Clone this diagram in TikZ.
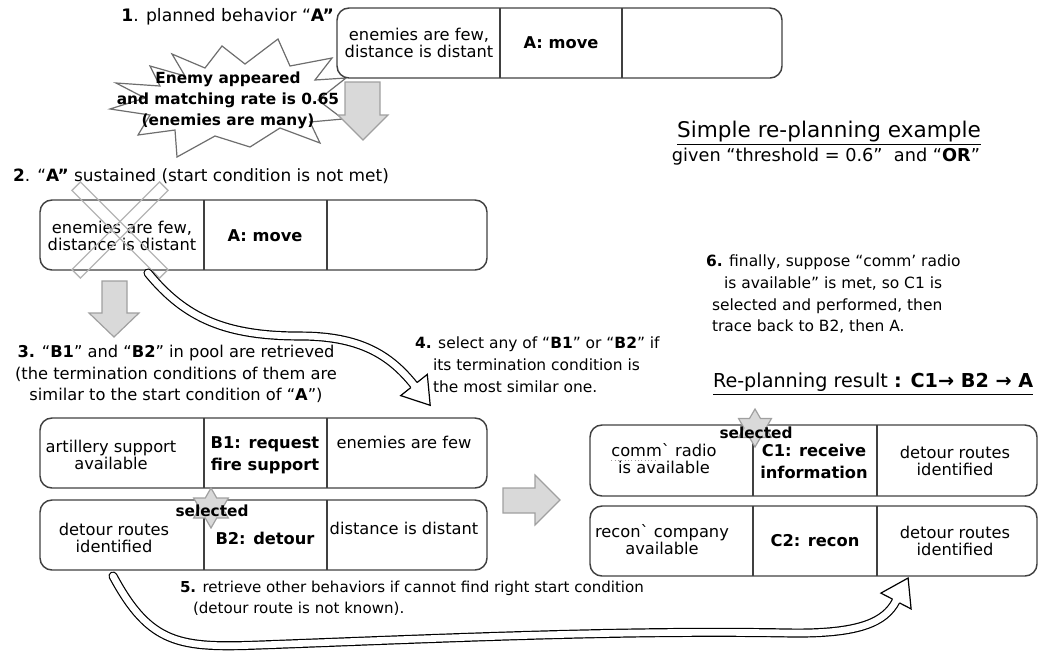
\documentclass[tikz,border=0pt]{standalone}
\usepackage{fontspec}
\setmainfont{DejaVu Sans}[Ligatures=TeXOff]
\usetikzlibrary{calc}

\definecolor{boxline}{HTML}{404040}
\definecolor{arrowfill}{HTML}{D9D9D9}
\definecolor{arrowline}{HTML}{A0A0A0}
\definecolor{crossgray}{HTML}{B4B4B4}
\definecolor{burstgray}{HTML}{6E6E6E}
\definecolor{spellgray}{HTML}{A09898}

\newcommand{\condfont}{\fontsize{12.2}{12.8}\selectfont}
\newcommand{\actfont}{\fontsize{12.2}{16.5}\selectfont\bfseries}
\newcommand{\selfont}{\fontsize{11.5}{14}\selectfont\bfseries}

% six-pointed star: centre x, centre y, outer radius, inner radius
\newcommand{\hexstar}[4]{%
  \draw[selstar] ($(#1,#2)+(90:#3)$) -- ($(#1,#2)+(120:#4)$) --
    ($(#1,#2)+(150:#3)$) -- ($(#1,#2)+(180:#4)$) --
    ($(#1,#2)+(210:#3)$) -- ($(#1,#2)+(240:#4)$) --
    ($(#1,#2)+(270:#3)$) -- ($(#1,#2)+(300:#4)$) --
    ($(#1,#2)+(330:#3)$) -- ($(#1,#2)+(0:#4)$) --
    ($(#1,#2)+(30:#3)$) -- ($(#1,#2)+(60:#4)$) -- cycle;}

\tikzset{
  behbox/.style={draw=boxline, line width=1.1pt, rounded corners=9pt},
  divider/.style={draw=boxline, line width=1.1pt},
  cond/.style={font=\condfont, align=center},
  act/.style={font=\actfont, align=center},
  note/.style={align=left},
  blockarrow/.style={fill=arrowfill, draw=arrowline, line width=0.9pt, line join=miter},
  flowshaft/.style={draw=black, line width=0.9pt, double=white, double distance=5pt, line cap=round},
  flowhead/.style={draw=black, line width=0.9pt, line join=miter},
  crossbar/.style={draw=crossgray, line width=1pt},
  selstar/.style={fill=arrowfill, draw=arrowline, line width=0.9pt, line join=miter},
  burst/.style={draw=burstgray, line width=0.9pt, fill=white, line join=miter},
  spellwave/.style={draw=spellgray, line width=0.5pt, dotted},
}

\begin{document}
\begin{tikzpicture}[x=0.75pt, y=-0.75pt, every node/.style={inner sep=0pt, outer sep=0pt}]
\useasboundingbox (0,0) rectangle (1039,654);

% ---------- step 1: planned behaviour A ----------
\node[note, font=\fontsize{12.9}{16}\selectfont, anchor=east] (s1) at (334,17)
  {\textbf{1}. planned behavior “\textbf{A”}};

\draw[burst] (278,39) -- (290,66) -- (332,58) -- (315,80) -- (346,78) -- (318,100)
  -- (343,119) -- (310,122) -- (320,143) -- (280,128) -- (250,147) -- (215,136)
  -- (177,157) -- (175,130) -- (138,135) -- (150,115) -- (110,109) -- (145,98)
  -- (116,83) -- (160,86) -- (150,66) -- (185,76) -- (172,54) -- (205,68)
  -- (222,46) -- (245,64) -- cycle;
\node[font=\fontsize{11.5}{15.7}\selectfont\bfseries, align=center] (burst) at (228,100)
  {Enemy appeared\\and matching rate is 0.65\\(enemies are many)};

\draw[blockarrow] (345,82) -- (380,82) -- (380,115) -- (388,115) -- (363,140)
  -- (338,115) -- (345,115) -- cycle;

\draw[behbox] (337,8) rectangle (782,78);
\draw[divider] (500,8) -- (500,78);
\draw[divider] (622,8) -- (622,78);
\node[cond] (a1s) at (419,43) {enemies are few,\\distance is distant};
\node[act] (a1b) at (561,43) {A: move};

% ---------- heading ----------
\node[font=\fontsize{16.2}{18}\selectfont] (title) at (829,133) {\underline{Simple re-planning example}};
\node[font=\fontsize{13.3}{15}\selectfont] (given) at (826,157) {given “threshold = 0.6”\ \ and “\textbf{OR}”};

% ---------- step 2: A sustained ----------
\node[note, font=\fontsize{12.7}{16}\selectfont, anchor=west] (s2) at (13,176)
  {\textbf{2}. “\textbf{A”} sustained (start condition is not met)};

\draw[behbox] (40,200) rectangle (487,270);
\draw[divider] (204,200) -- (204,270);
\draw[divider] (327,200) -- (327,270);
\node[cond] (a2s) at (122,236) {enemies are few,\\distance is distant};
\node[act] (a2b) at (265,236) {A: move};

\draw[crossbar, rotate around={45:(120,230)}] (58,224) rectangle (182,236);
\draw[crossbar, rotate around={-45:(120,230)}] (58,224) rectangle (182,236);

\draw[blockarrow] (102,281) -- (127,281) -- (127,313) -- (139,313) -- (114,337)
  -- (89,313) -- (102,313) -- cycle;

% ---------- step 3 ----------
\node[note, font=\fontsize{12.2}{16.1}\selectfont, align=center] (s3) at (176,374)
  {\textbf{3.} “\textbf{B1}” and “\textbf{B2}” in pool are retrieved\\
   (the termination conditions of them are\\
   similar to the start condition of “\textbf{A}”)};

% ---------- step 4 ----------
\node[note, font=\fontsize{11.6}{16.4}\selectfont, anchor=north west] (s4) at (415,337)
  {\textbf{4.} select any of “\textbf{B1}” or “\textbf{B2}” if\\
   \hspace*{13.5pt}its termination condition is\\
   \hspace*{13.5pt}the most similar one.};

% B1
\draw[behbox] (40,418) rectangle (487,488);
\draw[divider] (204,418) -- (204,488);
\draw[divider] (327,418) -- (327,488);
\node[cond] (b1s) at (111,455) {artillery support\\available};
\node[act] (b1b) at (265,455) {B1: request\\fire support};
\node[cond] (b1t) at (404,442) {enemies are few};

% B2
\draw[behbox] (40,500) rectangle (487,570);
\draw[divider] (204,500) -- (204,570);
\draw[divider] (327,500) -- (327,570);
\node[cond] (b2s) at (114,538) {detour routes\\identified};
\node[act] (b2b) at (265,538) {B2: detour};
\node[cond] (b2t) at (404,528) {distance is distant};
\hexstar{211}{508}{20}{11.5}
\node[font=\selfont] (b2sel) at (212,511) {selected};

% gray arrow towards the C boxes
\draw[blockarrow] (503,488) -- (535,488) -- (535,475) -- (560,500) -- (535,525)
  -- (535,513) -- (503,513) -- cycle;

% ---------- step 6 ----------
\node[note, font=\fontsize{11.6}{16.3}\selectfont, anchor=north west] (s6) at (706,255)
  {\textbf{6.} finally, suppose “comm’ radio\\
   \hspace*{13.5pt}is available” is met, so C1 is\\
   \hspace*{4.5pt}selected and performed, then\\
   \hspace*{4.5pt}trace back to B2, then A.};

\node[font=\fontsize{14.4}{16}\selectfont, anchor=west] (result) at (713,384)
  {\underline{Re-planning result \textbf{: C1→ B2 → A}}};

% C1
\draw[behbox] (590,425) rectangle (1037,496);
\draw[divider] (753,425) -- (753,496);
\draw[divider] (877,425) -- (877,496);
\node[cond] (c1s) at (664,459) {comm` radio\\is available};
\draw[spellwave] (c1s.north west) ++(0,16) coordinate (sw1) -- ++(46,0) coordinate (sw2);
\node[act] (c1b) at (814,461) {C1: receive\\information};
\node[cond] (c1t) at (955,461) {detour routes\\identified};
\hexstar{755}{428}{19}{11}
\node[font=\selfont] (c1sel) at (756,433) {selected};

% C2
\draw[behbox] (590,506) rectangle (1037,576);
\draw[divider] (753,506) -- (753,576);
\draw[divider] (877,506) -- (877,576);
\node[cond] (c2s) at (662,540) {recon` company\\available};
\node[act] (c2b) at (815,541) {C2: recon};
\node[cond] (c2t) at (955,541) {detour routes\\identified};

% ---------- step 5 ----------
\node[note, font=\fontsize{11.3}{16}\selectfont, anchor=north west] (s5) at (180,581)
  {\textbf{5.} retrieve other behaviors if cannot find right start condition\\
   \hspace*{9.75pt}(detour route is not known).};

% ---------- hollow flow arrows ----------
\coordinate (f4s) at (148,273);
\coordinate (f4b) at (414,385);
\draw[flowshaft] (f4s) .. controls (185,318) and (225,336) .. (300,336)
  .. controls (360,336) and (390,355) .. (f4b);
\fill[white] (427.3,374.4) -- (430.2,405.3) -- (400.7,395.6) -- cycle;
\draw[flowhead] (417.1,382.5) -- (427.3,374.4) -- (430.2,405.3) -- (400.7,395.6) -- (410.9,387.5);

\coordinate (f5s) at (113,576);
\coordinate (f5b) at (896,601);
\draw[flowshaft] (f5s) .. controls (150,645) and (180,648) .. (260,645)
  .. controls (450,638) and (620,630) .. (790,633)
  .. controls (860,634) and (885,622) .. (f5b);
\fill[white] (911.1,608.9) -- (908.1,578.0) -- (880.9,593.1) -- cycle;
\draw[flowhead] (899.5,602.9) -- (911.1,608.9) -- (908.1,578.0) -- (880.9,593.1) -- (892.5,599.1);

\end{tikzpicture}
\end{document}
